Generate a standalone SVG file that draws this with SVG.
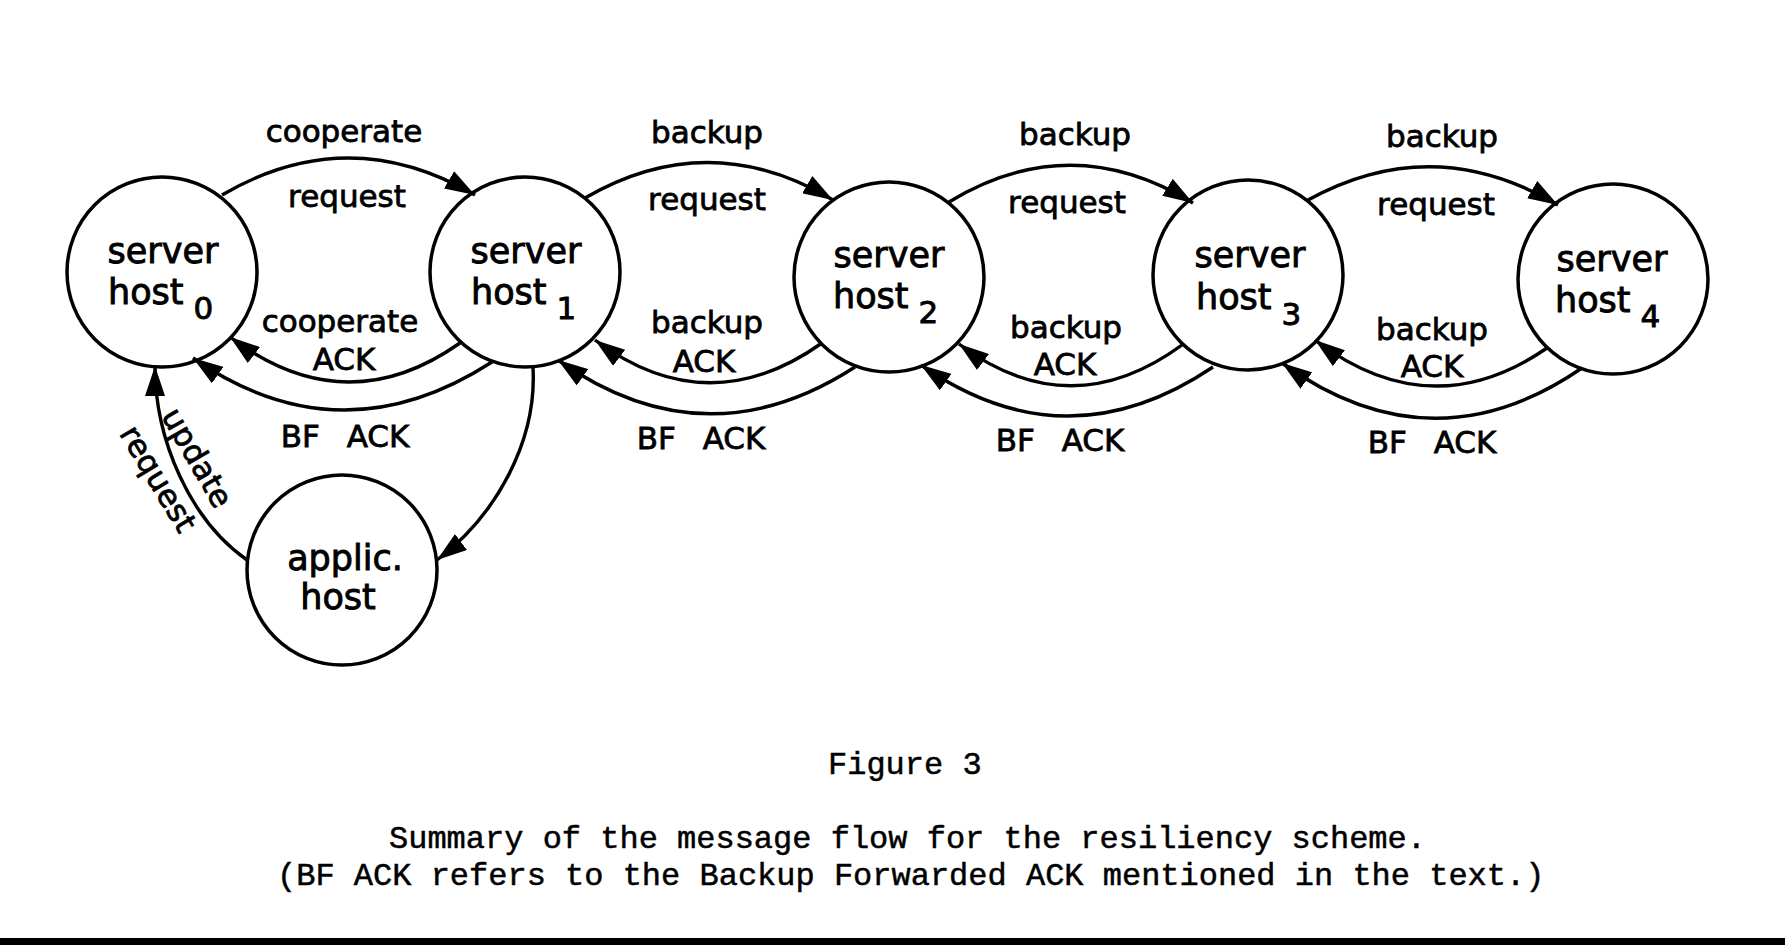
<svg xmlns="http://www.w3.org/2000/svg" width="1785" height="945" viewBox="0 0 1785 945">
<defs>
<style>
.node circle{fill:#fff;stroke:#000;stroke-width:3.5}
.nt{font-family:"DejaVu Sans","Liberation Sans",sans-serif;font-size:35px;fill:#000;stroke:#000;stroke-width:0.9}
.nt .sub{font-size:31px}
.ctr{text-anchor:middle}
.lbl{font-family:"DejaVu Sans","Liberation Sans",sans-serif;font-size:31px;fill:#000;stroke:#000;stroke-width:0.8;text-anchor:middle}
.edge{fill:none;stroke:#000;stroke-width:3.4;marker-end:url(#ah)}
.cap{font-family:"Liberation Mono","DejaVu Sans Mono",monospace;font-size:32px;fill:#000;stroke:#000;stroke-width:0.5}
</style>
<marker id="ah" markerUnits="userSpaceOnUse" markerWidth="31" markerHeight="20" refX="30" refY="10" orient="auto">
<path d="M0,0 L30,10 L0,20 z" fill="#000"/>
</marker>
</defs>
<rect width="1785" height="945" fill="#fff"/>

<g id="host0" class="node">
<circle cx="162" cy="272" r="95"/>
<text class="nt ctr" x="163" y="263">server</text>
<text class="nt" x="108" y="304">host<tspan class="sub" dx="10" dy="15">0</tspan></text>
</g>
<g id="host1" class="node">
<circle cx="525" cy="272" r="95"/>
<text class="nt ctr" x="526" y="263">server</text>
<text class="nt" x="471" y="304">host<tspan class="sub" dx="10" dy="15">1</tspan></text>
</g>
<g id="host2" class="node">
<circle cx="889" cy="277" r="95"/>
<text class="nt ctr" x="889" y="267">server</text>
<text class="nt" x="833" y="308">host<tspan class="sub" dx="10" dy="15">2</tspan></text>
</g>
<g id="host3" class="node">
<circle cx="1248" cy="275" r="95"/>
<text class="nt ctr" x="1250" y="267">server</text>
<text class="nt" x="1196" y="309">host<tspan class="sub" dx="10" dy="16">3</tspan></text>
</g>
<g id="host4" class="node">
<circle cx="1613" cy="279" r="95"/>
<text class="nt ctr" x="1612" y="271">server</text>
<text class="nt" x="1555" y="312">host<tspan class="sub" dx="10" dy="15">4</tspan></text>
</g>
<g id="applic" class="node">
<circle cx="342" cy="570" r="95"/>
<text class="nt ctr" x="345" y="570">applic.</text>
<text class="nt ctr" x="338" y="609">host</text>
</g>

<g id="connectors">
<path class="edge" d="M222,195 Q348,121 475,195"/>
<path class="edge" d="M585,198 Q709,126 833,200"/>
<path class="edge" d="M949,202 Q1071,128 1193,203"/>
<path class="edge" d="M1308,200 Q1433,131 1558,205"/>
<path class="edge" d="M460,343 Q345,424 230,337"/>
<path class="edge" d="M822,343 Q708,424 595,340"/>
<path class="edge" d="M1182,345 Q1070,427 959,344"/>
<path class="edge" d="M1547,348 Q1431,428 1315,340"/>
<path class="edge" d="M492,362 Q340,460 193,358"/>
<path class="edge" d="M855,367 Q705,464 558,360"/>
<path class="edge" d="M1213,367 Q1066,466 921,365"/>
<path class="edge" d="M1582,368 Q1432,471 1282,363"/>
<path class="edge" d="M533,368 C537,440 497,515 437,560"/>
<path class="edge" d="M247,560 C190,520 155,440 155,366"/>
</g>

<g id="labels">
<text class="lbl" x="344" y="142">cooperate</text>
<text class="lbl" x="347" y="207">request</text>
<text class="lbl" x="340" y="332">cooperate</text>
<text class="lbl" x="344" y="370">ACK</text>
<text class="lbl" x="345" y="447" word-spacing="17">BF ACK</text>

<text class="lbl" x="707" y="143">backup</text>
<text class="lbl" x="707" y="210">request</text>
<text class="lbl" x="707" y="333">backup</text>
<text class="lbl" x="704" y="372">ACK</text>
<text class="lbl" x="701" y="449" word-spacing="17">BF ACK</text>

<text class="lbl" x="1075" y="145">backup</text>
<text class="lbl" x="1067" y="213">request</text>
<text class="lbl" x="1066" y="338">backup</text>
<text class="lbl" x="1065" y="375">ACK</text>
<text class="lbl" x="1060" y="451" word-spacing="17">BF ACK</text>

<text class="lbl" x="1442" y="147">backup</text>
<text class="lbl" x="1436" y="215">request</text>
<text class="lbl" x="1432" y="340">backup</text>
<text class="lbl" x="1432" y="377">ACK</text>
<text class="lbl" x="1432" y="453" word-spacing="17">BF ACK</text>

<text class="lbl" transform="translate(195,459) rotate(60)" x="0" y="8">update</text>
<text class="lbl" transform="translate(156,480) rotate(59)" x="0" y="8">request</text>
</g>

<g id="caption">
<text class="cap" x="828" y="774">Figure 3</text>
<text class="cap" x="389" y="848">Summary of the message flow for the resiliency scheme.</text>
<text class="cap" x="277" y="885">(BF ACK refers to the Backup Forwarded ACK mentioned in the text.)</text>
<rect x="0" y="938" width="1785" height="7" fill="#000"/>
</g>
</svg>
